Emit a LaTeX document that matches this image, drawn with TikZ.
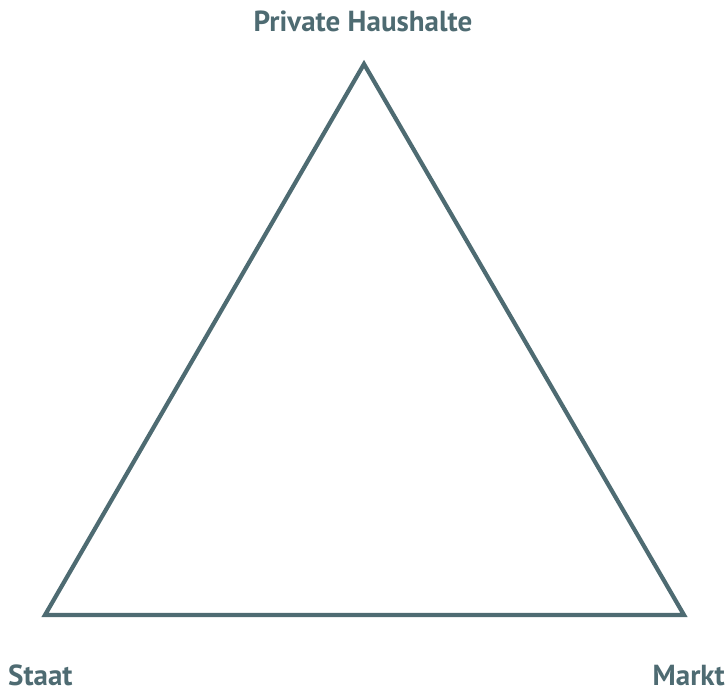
\documentclass[tikz,border=0pt]{standalone}
\usepackage{fontspec}
\setmainfont{PT Sans}
\definecolor{teal}{HTML}{4E6B72}
\begin{document}
\begin{tikzpicture}[x=1pt,y=-1pt,
  lbl/.style={text=teal,font=\bfseries\fontsize{29}{34}\selectfont,inner sep=0pt,anchor=base},
  tri/.style={draw=teal,line width=4.2pt,line join=miter}]
\useasboundingbox (0,0) rectangle (727,689);
\coordinate (top) at (364,64);
\coordinate (bl) at (45,615);
\coordinate (br) at (684,615);
\draw[tri] (top) -- (bl) -- (br) -- cycle;
\node[lbl] (ph) at (363,31) {Private Haushalte};
\node[lbl,anchor=base west] (st) at (8,685) {Staat};
\node[lbl,anchor=base east] (mk) at (725,685) {Markt};
\end{tikzpicture}
\end{document}
